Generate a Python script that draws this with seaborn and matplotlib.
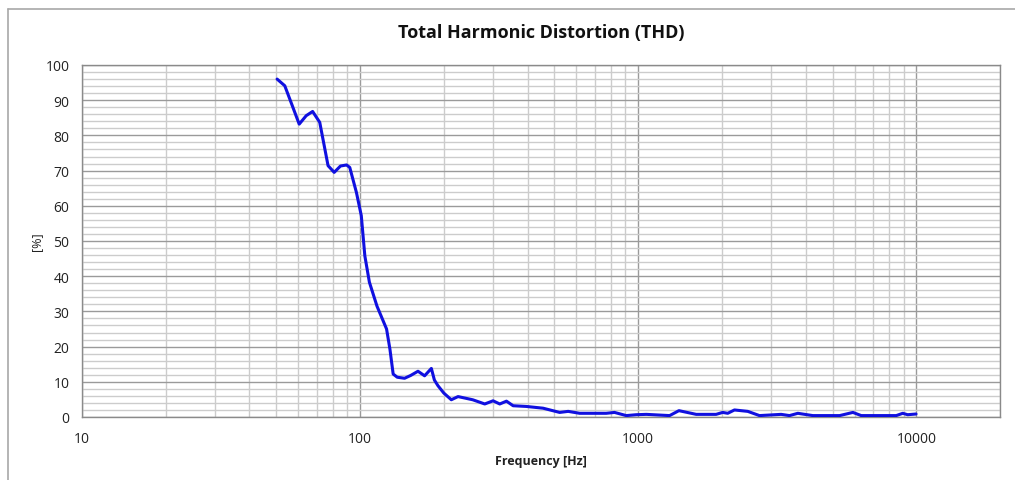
import numpy as np
import pandas as pd
import matplotlib
matplotlib.use("Agg")
import matplotlib.pyplot as plt
import seaborn as sns
from matplotlib.ticker import FixedLocator, NullFormatter, LogLocator
from matplotlib.lines import Line2D

# THD curve
freq_hz = [50.3, 53.6, 57, 60.4, 64, 67.5, 71.6, 76.7, 80.7, 85, 89.4, 91.8, 97.0,
           101, 104, 108, 115, 124.5, 128, 131.5, 136, 144.5, 152, 161.5, 170.6,
           180.4, 185, 190.5, 200, 212.8, 225, 254, 280.7, 300.7, 317.8, 336, 355,
           396, 455, 522, 560, 616, 767, 822, 906, 984, 1070, 1297, 1401, 1617,
           1906, 2013, 2099, 2219, 2478, 2730, 3266, 3500, 3750, 4246, 5300, 5917,
           6340, 8470, 8940, 9310, 9980]
thd_pct = [96.0, 94.1, 88.5, 83.2, 85.6, 86.8, 83.7, 71.4, 69.5, 71.3, 71.6, 70.9, 63.8,
           57.2, 45.8, 38.3, 31.5, 25.0, 19.3, 12.2, 11.3, 11.0, 11.8, 13.0, 11.7,
           13.8, 10.5, 8.9, 6.8, 4.9, 5.8, 4.9, 3.7, 4.6, 3.7, 4.5, 3.2,
           3.0, 2.5, 1.3, 1.6, 1.05, 1.05, 1.3, 0.4, 0.65, 0.75, 0.4, 1.8, 0.75,
           0.75, 1.3, 1.05, 2.0, 1.6, 0.4, 0.75, 0.4, 1.05, 0.4, 0.4, 1.3,
           0.4, 0.4, 1.05, 0.65, 0.85]

x_ticks = [10, 100, 1000, 10000]
x_ticklabels = ["10", "100", "1000", "10000"]
y_ticks = list(range(0, 101, 10))

df = pd.DataFrame({"freq": freq_hz, "thd": thd_pct})

sns.set_style("white")
plt.rcParams["font.family"] = ["Open Sans", "DejaVu Sans"]

fig = plt.figure(figsize=(10.15, 4.81), dpi=100)
ax = fig.add_axes([82 / 1015, 63 / 481, 918 / 1015, 352 / 481])

ax.set_xscale("log")
sns.lineplot(data=df, x="freq", y="thd", ax=ax, color="#1010e0", linewidth=2.2,
             zorder=5, solid_joinstyle="round", solid_capstyle="round")

ax.set_xlim(10, 20000)
ax.set_ylim(0, 100)

ax.xaxis.set_major_locator(FixedLocator(x_ticks))
ax.set_xticklabels(x_ticklabels)
ax.xaxis.set_minor_locator(LogLocator(base=10, subs=np.arange(2, 10)))
ax.xaxis.set_minor_formatter(NullFormatter())
ax.set_yticks(y_ticks)
ax.yaxis.set_minor_locator(FixedLocator(np.arange(0, 101, 2)))

ax.grid(which="major", color="#9a9a9a", linewidth=1.0)
ax.grid(which="minor", color="#cccccc", linewidth=1.0)
ax.set_axisbelow(True)

ax.tick_params(which="major", axis="both", direction="out", length=6, width=1,
               color="#8a8a8a", labelsize=10, labelcolor="#222222", pad=3)
ax.tick_params(which="minor", length=0)
ax.tick_params(axis="x", pad=4)
for side in ["left", "bottom", "right", "top"]:
    ax.spines[side].set_visible(True)
    ax.spines[side].set_color("#8a8a8a")
    ax.spines[side].set_linewidth(1)

ax.set_xlabel("Frequency [Hz]", fontsize=9, fontweight="bold", color="#222222", labelpad=6)
ax.set_ylabel("[%]", fontsize=9, color="#222222", labelpad=2)
ax.set_title("Total Harmonic Distortion (THD)", fontsize=13, fontweight="bold",
             color="#111111", pad=20)

# outer chart frame
fig.add_artist(Line2D([8 / 1015, 8 / 1015], [0, 1 - 10 / 481], color="#a8a8a8", linewidth=1.2))
fig.add_artist(Line2D([8 / 1015, 1], [1 - 10 / 481, 1 - 10 / 481], color="#a8a8a8", linewidth=1.2))

fig.savefig("out.png", dpi=100, facecolor="white")
